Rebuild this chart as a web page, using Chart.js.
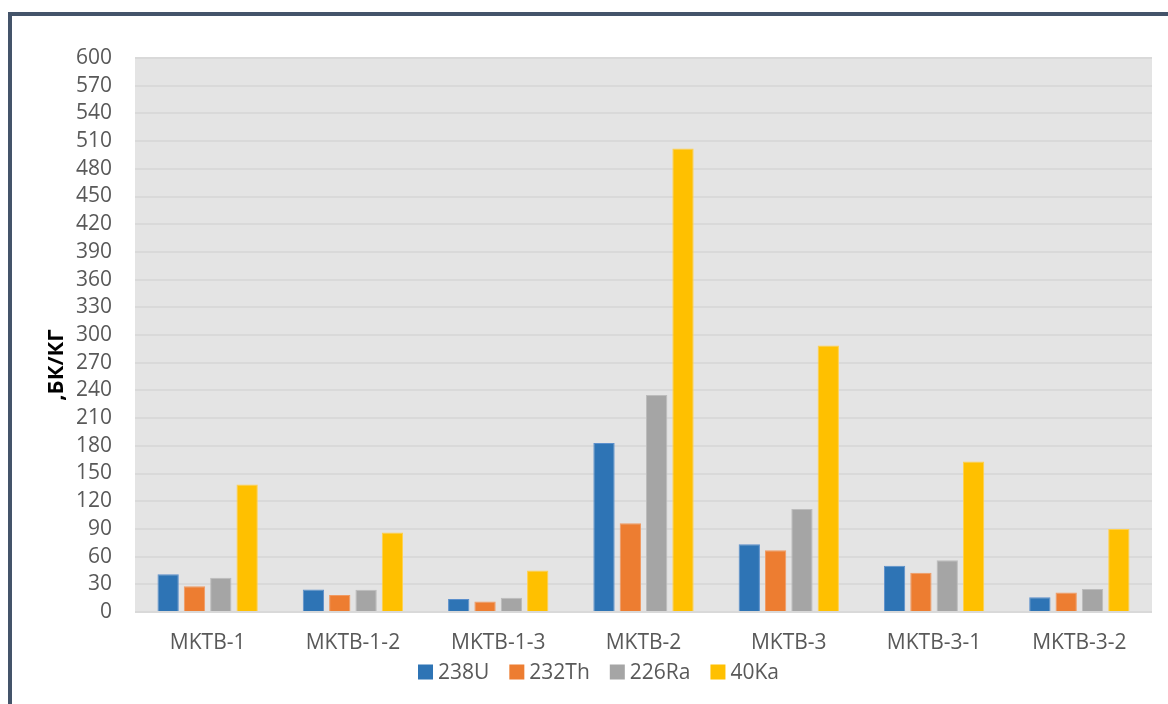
<!DOCTYPE html>
<html>
<head>
<meta charset="utf-8">
<script src="https://cdn.jsdelivr.net/npm/chart.js@4/dist/chart.umd.min.js"></script>
<style>
  html, body { margin: 0; padding: 0; background: #ffffff; overflow: hidden; }
  #frame {
    position: absolute; left: 8px; top: 12px;
    width: 1200px; height: 740px;
    border: 4px solid #44546a; box-sizing: border-box;
  }
  #wrap { position: absolute; left: 0; top: 0; width: 1168px; height: 704px; }
</style>
</head>
<body>
<div id="frame"></div>
<div id="wrap"><canvas id="chart" width="1168" height="704"></canvas></div>
<script>
// Sample sites
const categories = ['MKTB-1', 'MKTB-1-2', 'MKTB-1-3', 'MKTB-2', 'MKTB-3', 'MKTB-3-1', 'MKTB-3-2'];

// Specific activity per radionuclide, Bq/kg
const u238  = [41, 24.5, 14, 183, 73.5, 50, 16];
const th232 = [28, 18.5, 11.5, 96, 67, 42.5, 21];
const ra226 = [37, 24, 15.5, 235, 111.5, 56, 25];
const k40   = [138, 86, 45, 502, 288.5, 163, 90];

const seriesNames = ['238U', '232Th', '226Ra', '40Ka'];
const yTitle = ',БК/КГ';

const colors = ['#2e74b5', '#ed7d31', '#a5a5a5', '#ffc000'];
const edges  = ['#5b8fcc', '#f19a62', '#bcbcbc', '#ffd04d'];

const FONT = '"Open Sans", "Noto Sans", sans-serif';
const TEXT_SIZE = 21;

// Grey plot background behind the gridlines
const plotBackground = {
  id: 'plotBackground',
  beforeDraw(chart) {
    const { ctx, chartArea: a } = chart;
    ctx.save();
    ctx.fillStyle = '#e4e4e4';
    ctx.fillRect(a.left, a.top - 1, a.right - a.left, a.bottom - a.top + 2);
    ctx.restore();
  }
};

// Vertical unit label to the left of the tick labels
const unitLabel = {
  id: 'unitLabel',
  afterDraw(chart) {
    const { ctx, chartArea: a } = chart;
    ctx.save();
    ctx.translate(a.left - 78, (a.top + a.bottom) / 2 + 30);
    ctx.rotate(-Math.PI / 2);
    ctx.font = 'bold 22px ' + FONT;
    ctx.fillStyle = '#000000';
    ctx.textAlign = 'center';
    ctx.textBaseline = 'middle';
    ctx.fillText(yTitle, 0, 0);
    ctx.restore();
  }
};

// Single-row legend under the category labels
const bottomLegend = {
  id: 'bottomLegend',
  afterDraw(chart) {
    const { ctx, chartArea: a } = chart;
    const box = 15, textGap = 5, itemGap = 20;
    ctx.save();
    ctx.font = TEXT_SIZE + 'px ' + FONT;
    ctx.textBaseline = 'middle';
    ctx.textAlign = 'left';
    const items = chart.data.datasets.map(d => ({
      text: d.label, color: d.backgroundColor, w: ctx.measureText(d.label).width
    }));
    const total = items.reduce((s, it) => s + box + textGap + it.w, 0) + itemGap * (items.length - 1);
    const cy = a.bottom + 60;
    let x = (a.left + a.right) / 2 - 45 - total / 2;
    items.forEach(it => {
      ctx.fillStyle = it.color;
      ctx.fillRect(x, cy - box / 2, box, box);
      x += box + textGap;
      ctx.fillStyle = '#595959';
      ctx.fillText(it.text, x, cy + 1);
      x += it.w + itemGap;
    });
    ctx.restore();
  }
};

const values = [u238, th232, ra226, k40];

new Chart(document.getElementById('chart'), {
  type: 'bar',
  data: {
    labels: categories,
    datasets: values.map((v, i) => ({
      label: seriesNames[i],
      data: v,
      backgroundColor: colors[i],
      borderColor: edges[i],
      borderWidth: 1,
      categoryPercentage: 0.725,
      barPercentage: 0.81
    }))
  },
  options: {
    responsive: false,
    animation: false,
    devicePixelRatio: 1,
    layout: { padding: { left: 30, right: 16, top: 58, bottom: 42 } },
    plugins: {
      legend: { display: false },
      tooltip: { enabled: false }
    },
    scales: {
      x: {
        afterFit(scale) { scale.height = 50; },
        grid: { display: false, drawTicks: false },
        border: { display: false },
        ticks: {
          font: { family: FONT, size: TEXT_SIZE },
          color: '#595959',
          padding: 18,
          maxRotation: 0,
          autoSkip: false
        }
      },
      y: {
        min: 0,
        max: 600,
        afterFit(scale) { scale.width = 105; },
        grid: { color: '#d9d9d9', lineWidth: 2, drawTicks: false },
        border: { display: false },
        ticks: {
          stepSize: 30,
          autoSkip: false,
          font: { family: FONT, size: TEXT_SIZE },
          color: '#595959',
          padding: 23
        }
      }
    }
  },
  plugins: [plotBackground, unitLabel, bottomLegend]
});
</script>
</body>
</html>
